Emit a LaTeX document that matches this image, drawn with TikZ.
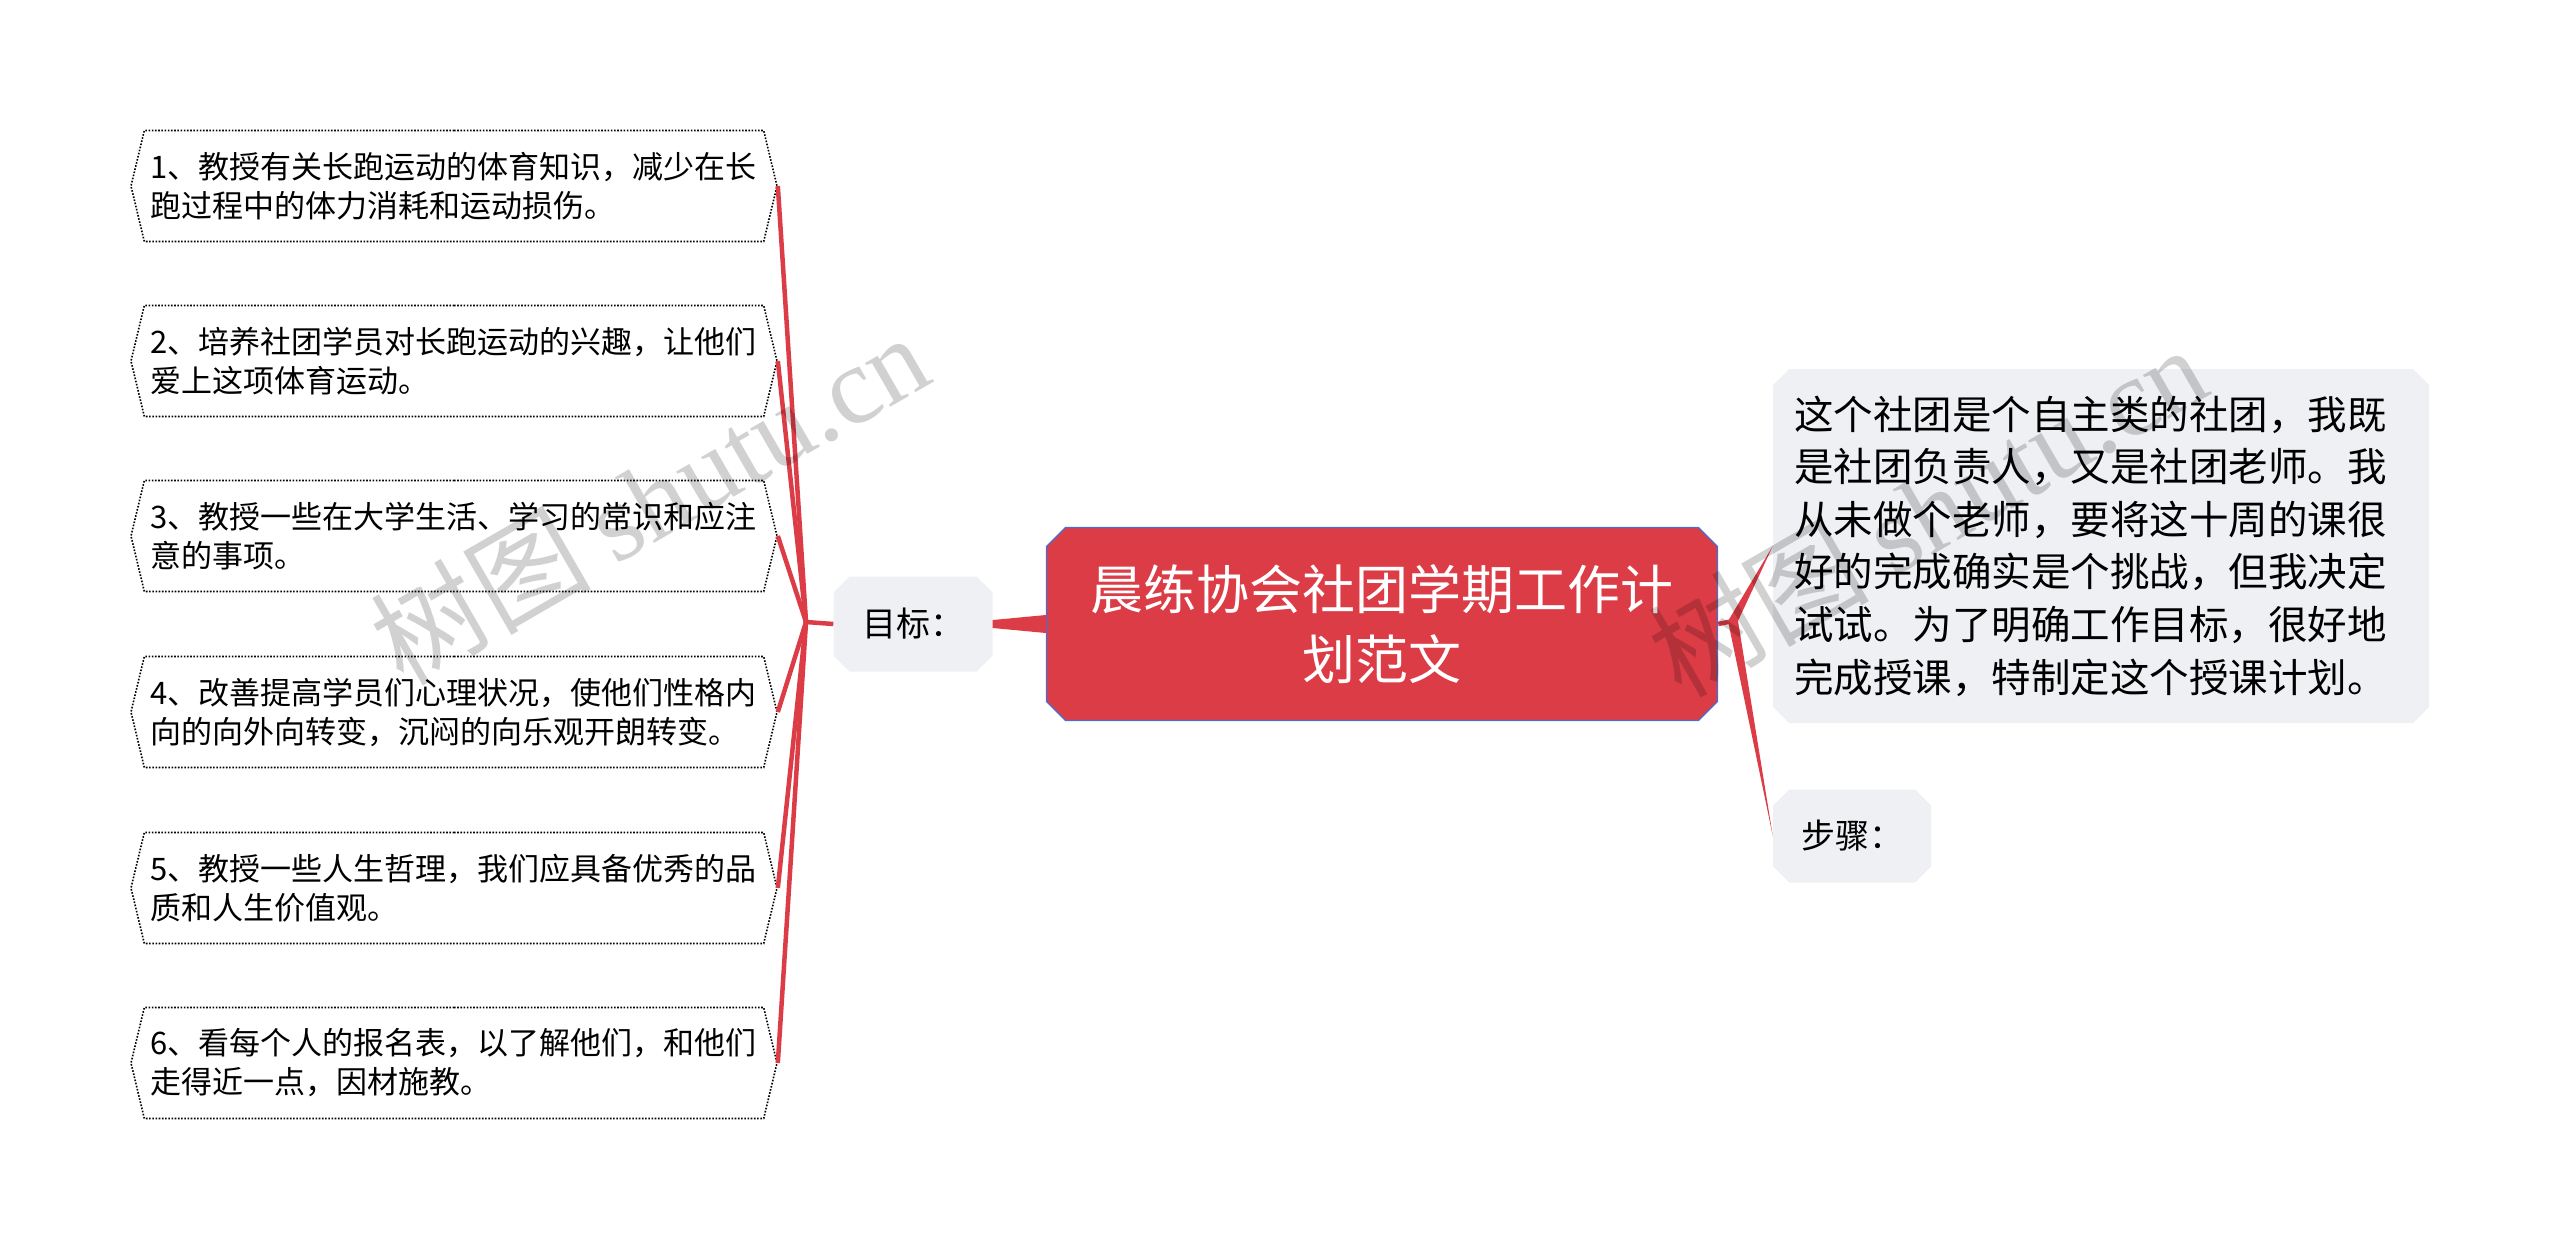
\documentclass[tikz,border=0pt]{standalone}
\usepackage{fontspec}
\setmainfont{Noto Sans CJK SC}
\newfontfamily\marklatin{Liberation Serif}
\usetikzlibrary{shapes.misc,shapes.symbols}
\definecolor{linkred}{HTML}{DC3C46}
\definecolor{rootblue}{HTML}{4570D0}
\definecolor{softgray}{HTML}{EEF0F3}
\begin{document}
\begin{tikzpicture}[x=1pt,y=-1pt,
  branch/.style={draw=linkred,line width=4.5pt},
  leaf/.style={signal,signal to=east and west,signal pointer angle=153,draw,dash pattern=on 1.6pt off 1.6pt,line width=1.6pt,fill=white,minimum width=646pt,minimum height=111pt,inner sep=0pt,text width=608pt,align=left,font=\fontsize{31}{39}\selectfont},
  graybox/.style={chamfered rectangle,chamfered rectangle xsep=8pt,chamfered rectangle ysep=8pt,fill=softgray,inner sep=0pt},
  stampmark/.style={rotate=30,text=black,text opacity=0.18,font=\fontsize{110}{110}\selectfont}]
\useasboundingbox (0,0) rectangle (2560,1251);
\node[chamfered rectangle,chamfered rectangle xsep=9.5pt,chamfered rectangle ysep=9.5pt,fill=linkred,draw=rootblue,line width=1.3pt,minimum width=671pt,minimum height=193pt,inner sep=0pt,text=white,align=center,font=\fontsize{53}{70}\selectfont] (ctr) at (1382,624) {晨练协会社团学期工作计\\划范文};
\node[graybox,minimum width=159pt,minimum height=95pt,font=\fontsize{34}{40}\selectfont] (goal) at (913,624) {目标：};
\node[graybox,minimum width=656pt,minimum height=354pt,text width=614pt,align=left,font=\fontsize{39.5}{52.6}\selectfont] (info) at (2101,546) {这个社团是个自主类的社团，我既\\是社团负责人，又是社团老师。我\\从未做个老师，要将这十周的课很\\好的完成确实是个挑战，但我决定\\试试。为了明确工作目标，很好地\\完成授课，特制定这个授课计划。};
\node[graybox,minimum width=158pt,minimum height=93pt,font=\fontsize{34}{40}\selectfont] (steps) at (1852,836) {步骤：};
\node[leaf] (l1) at (454,186) {1、教授有关长跑运动的体育知识，减少在长\\跑过程中的体力消耗和运动损伤。};
\node[leaf] (l2) at (454,361) {2、培养社团学员对长跑运动的兴趣，让他们\\爱上这项体育运动。};
\node[leaf] (l3) at (454,536) {3、教授一些在大学生活、学习的常识和应注\\意的事项。};
\node[leaf] (l4) at (454,712) {4、改善提高学员们心理状况，使他们性格内\\向的向外向转变，沉闷的向乐观开朗转变。};
\node[leaf] (l5) at (454,888) {5、教授一些人生哲理，我们应具备优秀的品\\质和人生价值观。};
\node[leaf] (l6) at (454,1063) {6、看每个人的报名表，以了解他们，和他们\\走得近一点，因材施教。};
\coordinate (lh) at (806,622);
\coordinate (rh) at (1733,621);
\fill[linkred] ([yshift=4pt]goal.east) -- ([yshift=9pt]ctr.west) -- ([yshift=-9pt]ctr.west) -- ([yshift=-4pt]goal.east) -- cycle;
\draw[branch] (goal.west) -- (lh);
\foreach \i in {1,...,6}
  \draw[branch] (lh) -- (l\i.east);
\draw[branch] (ctr.east) -- (rh);
\fill[linkred] ([xshift=-5pt]rh) -- (info.west) -- ([xshift=5pt]rh) -- cycle;
\fill[linkred] ([xshift=-5pt]rh) -- (steps.west) -- ([xshift=5pt]rh) -- cycle;
\node[stampmark] (wm1) at (649,498) {树图 {\marklatin shutu.cn}};
\node[stampmark] (wm2) at (1927,510) {树图 {\marklatin shutu.cn}};
\end{tikzpicture}
\end{document}
